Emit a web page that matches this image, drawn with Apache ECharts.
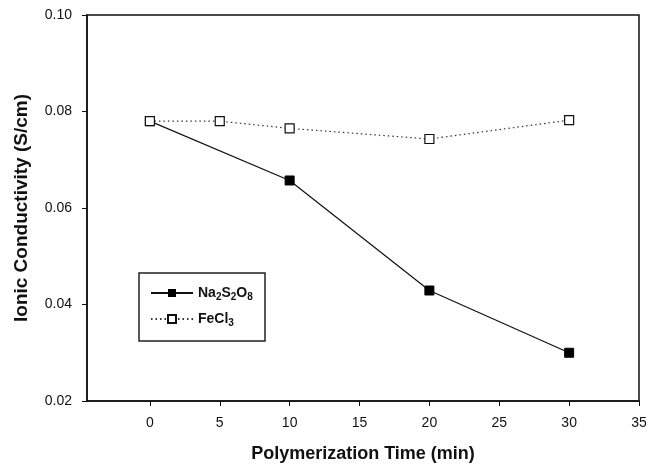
<!DOCTYPE html>
<html>
<head>
<meta charset="utf-8">
<script src="https://cdn.jsdelivr.net/npm/echarts@6/dist/echarts.min.js"></script>
<style>
  html, body { margin: 0; padding: 0; background: #fff; }
  #main { width: 661px; height: 468px; }
</style>
</head>
<body>
<div id="main"></div>
<script>
// polymerization time (min)
const naTimes = [0, 10, 20, 30]
const naValues = [0.078, 0.0657, 0.0429, 0.030]
const feTimes = [0, 5, 10, 20, 30]
const feValues = [0.078, 0.078, 0.0765, 0.0743, 0.0782]
const xTicks = [0, 5, 10, 15, 20, 25, 30, 35]

const chart = echarts.init(document.getElementById('main'))

const font = '"Liberation Sans", Arial, sans-serif'
const rich = {
  b: { fontFamily: font, fontSize: 14, fontWeight: 'bold', color: '#111' },
  s: { fontFamily: font, fontSize: 10, fontWeight: 'bold', color: '#111', padding: [8, 0, 0, 0] }
}

const option = {
  animation: false,
  grid: {
    left: 87, right: 22, top: 15, bottom: 67,
    show: true, borderColor: '#111', borderWidth: 1.5
  },
  xAxis: {
    type: 'value',
    min: -4.5,
    max: 35,
    name: 'Polymerization Time (min)',
    nameLocation: 'middle',
    nameGap: 44,
    nameTextStyle: { fontFamily: font, fontSize: 18, fontWeight: 'bold', color: '#111' },
    axisLine: { onZero: false, lineStyle: { color: '#111', width: 1.5 } },
    axisTick: { customValues: xTicks, length: 5, lineStyle: { color: '#111' } },
    axisLabel: { customValues: xTicks, fontFamily: font, fontSize: 14, color: '#111', margin: 15 },
    splitLine: { show: false }
  },
  yAxis: {
    type: 'value',
    min: 0.02,
    max: 0.10,
    interval: 0.02,
    name: 'Ionic Conductivity (S/cm)',
    nameLocation: 'middle',
    nameGap: 56,
    nameTextStyle: { fontFamily: font, fontSize: 19, fontWeight: 'bold', color: '#111' },
    axisLine: { onZero: false, lineStyle: { color: '#111', width: 1.5 } },
    axisTick: { length: 5, lineStyle: { color: '#111' } },
    axisLabel: {
      fontFamily: font, fontSize: 14, color: '#111', margin: 15,
      formatter: v => v.toFixed(2)
    },
    splitLine: { show: false }
  },
  legend: {
    orient: 'vertical',
    left: 145,
    top: 281,
    itemWidth: 42,
    itemHeight: 10,
    itemGap: 10,
    data: ['Na2S2O8', 'FeCl3'],
    formatter: name => name === 'Na2S2O8'
      ? '{b|Na}{s|2}{b|S}{s|2}{b|O}{s|8}'
      : '{b|FeCl}{s|3}',
    textStyle: { rich: rich }
  },
  graphic: [{
    type: 'rect',
    shape: { x: 139, y: 273, width: 126, height: 68 },
    style: { fill: 'none', stroke: '#222', lineWidth: 1.5 },
    z: 100
  }],
  series: [
    {
      name: 'Na2S2O8',
      type: 'line',
      data: naTimes.map((t, i) => [t, naValues[i]]),
      symbol: 'rect',
      symbolSize: 9,
      itemStyle: { color: '#000', borderColor: '#000' },
      lineStyle: { color: '#111', width: 1.2 }
    },
    {
      name: 'FeCl3',
      type: 'line',
      data: feTimes.map((t, i) => [t, feValues[i]]),
      symbol: 'rect',
      symbolSize: 9,
      itemStyle: { color: '#fff', borderColor: '#111', borderWidth: 1.2 },
      lineStyle: { color: '#333', width: 1.2, type: [1.5, 3] }
    }
  ]
}
option && chart.setOption(option)
</script>
</body>
</html>
